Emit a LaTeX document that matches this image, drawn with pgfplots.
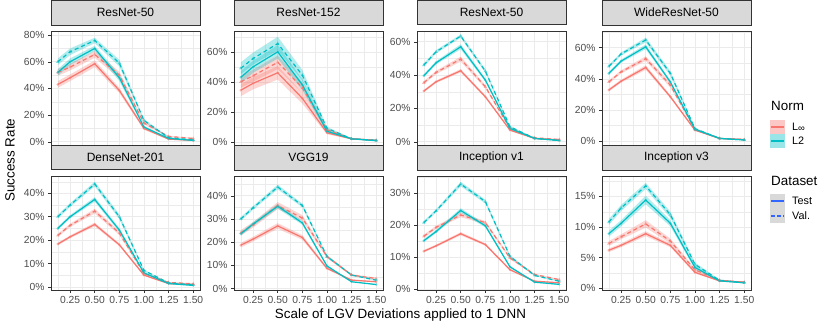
\documentclass[border=0pt]{standalone}
\usepackage{fontspec}
\setmainfont{Liberation Sans}
\usepackage{pgfplots}
\pgfplotsset{compat=1.18}
\usepackage{pgfplotstable}
\usepgfplotslibrary{fillbetween}
\definecolor{cinf}{HTML}{F8766D}
\definecolor{ctwo}{HTML}{00BFC4}
\definecolor{gridc}{HTML}{EBEBEB}
\definecolor{framec}{HTML}{333333}
\definecolor{tickc}{HTML}{4D4D4D}
\definecolor{stripc}{HTML}{D9D9D9}
\definecolor{legblue}{HTML}{3366FF}

% a = Linf Test, b = Linf Val., c = L2 Test, d = L2 Val.; *e = half-width of band
\pgfplotstableread{
x     a    ae   b    be   c    ce   d    de
0.125 43   2.5  52   2.5  52   2.5  60   2.5
0.25  48   2.5  56   2.5  60   2.5  67.5 2.5
0.5   58.5 2.5  65.5 2.5  70   2    76   2
0.75  38.5 2    50   2.5  48   2.5  59   2.5
1.0   10   1    14   1    11   1    16   1
1.25  2    0.4  4    0.5  2.5  0.4  3    0.5
1.5   1    0.3  2.5  0.4  1    0.3  1.5  0.3
}\tabA
\pgfplotstableread{
x     a    ae   b    be   c    ce   d    de
0.125 34.4 4    40   4    43   4    49   4
0.25  39   4    44   4    50   4    55.5 4
0.5   46   4.5  53   4.5  60   4.5  65.5 4.5
0.75  29   3.5  36   3.5  38   3.5  44.4 3.5
1.0   6    1    8    1    7    1    9    1
1.25  2    0.4  2    0.4  2    0.4  2    0.4
1.5   1    0.3  1    0.3  0.7  0.3  1    0.3
}\tabB
\pgfplotstableread{
x     a    ae   b    be   c    ce   d    de
0.125 30.4 0.8  35.4 1    39.6 1    46   1
0.25  36   0.8  41.6 1    47.4 1    54   1
0.5   42.6 1    49.6 1.5  57   1.5  63.4 1
0.75  27   0.8  33   1    37   1    42.4 1
1.0   7    0.5  8    0.5  8    0.5  9    0.5
1.25  2    0.3  2.4  0.3  2    0.3  2    0.3
1.5   1    0.2  1.4  0.2  0.8  0.2  0.8  0.2
}\tabC
\pgfplotstableread{
x     a    ae   b    be   c    ce   d    de
0.125 32.8 1    38   1    43.5 1    48   1
0.25  38.5 1    44.5 1    51.4 1    56   1
0.5   47.3 1.5  53   1.5  60.6 1.5  65   1.5
0.75  28.5 1    36   1.5  38   1    43.5 1.5
1.0   7    0.5  7.5  0.5  7.5  0.5  8    0.5
1.25  1.7  0.3  1.7  0.3  1.7  0.3  1.7  0.3
1.5   1    0.2  1    0.2  0.7  0.2  0.7  0.2
}\tabD
\pgfplotstableread{
x     a    ae   b    be   c    ce   d    de
0.125 18.3 0.6  22   0.7  25   0.7  30   0.8
0.25  21.4 0.6  26.3 0.7  30   0.7  35   0.8
0.5   26.7 0.8  32.4 1    37.4 1    44   1
0.75  18   0.6  23   0.8  24.3 0.8  30   1
1.0   5    0.3  5.7  0.3  6    0.3  7    0.4
1.25  1.4  0.2  1.9  0.2  1.4  0.2  1.7  0.2
1.5   1    0.15 1.3  0.2  0.6  0.15 0.9  0.15
}\tabE
\pgfplotstableread{
x     a    ae   b    be   c    ce   d    de
0.125 18.7 1    24   1.2  23.6 0.8  30   0.8
0.25  21.3 1    27.5 1.2  27.8 0.8  34.8 0.8
0.5   27   1.2  35.8 1.5  35.5 1    43.8 1
0.75  22   1    30.4 1.2  28.3 0.8  35.8 0.8
1.0   8.7  0.5  13.8 0.7  9.7  0.4  13.8 0.5
1.25  3.6  0.3  5.8  0.4  2.9  0.2  5.8  0.3
1.5   2.9  0.3  4.3  0.4  1.7  0.2  3.6  0.3
}\tabF
\pgfplotstableread{
x     a    ae   b    be   c    ce   d    de
0.125 11.8 0.4  16.5 0.5  15.1 0.5  20.8 0.5
0.25  13.5 0.4  19.3 0.5  18   0.5  24.5 0.5
0.5   17.3 0.5  23.2 0.7  24.6 0.7  32.9 0.7
0.75  13.9 0.4  20.8 0.5  19.8 0.5  27.4 0.6
1.0   6    0.3  9.7  0.4  6.9  0.3  10.2 0.4
1.25  2.4  0.2  4.5  0.2  2.1  0.2  4.2  0.2
1.5   1.9  0.2  2.9  0.2  1.4  0.15 2.4  0.2
}\tabG
\pgfplotstableread{
x     a    ae   b    be   c    ce   d    de
0.125 6.2  0.3  7.3  0.4  8.9  0.5  10.8 0.5
0.25  7    0.3  8.4  0.4  10.6 0.5  13.1 0.5
0.5   8.9  0.4  10.5 0.6  14.4 0.7  16.7 0.5
0.75  7    0.3  7.7  0.4  10.6 0.5  12   0.5
1.0   2.6  0.2  3    0.2  3.4  0.3  3.9  0.3
1.25  1.2  0.1  1.3  0.1  1.2  0.1  1.3  0.1
1.5   1    0.1  1    0.1  0.9  0.1  0.9  0.1
}\tabH

\pgfplotsset{
  panel/.style={
    scale only axis, width=149pt, height=114pt,
    xmin=0.056, xmax=1.569,
    xtick={0.25,0.5,0.75,1,1.25,1.5},
    minor xtick={0.125,0.375,0.625,0.875,1.125,1.375},
    grid=both,
    major grid style={gridc, line width=0.6pt},
    minor grid style={gridc, line width=0.3pt},
    axis line style={framec, line width=0.6pt},
    tick align=outside, major tick length=3pt, minor tick length=0pt,
    tick style={framec, line width=0.5pt},
    xtick pos=left, ytick pos=left,
    ticklabel style={font=\fontsize{10.3}{12}\selectfont, text=tickc},
    /pgf/number format/assume math mode=true,
    yticklabel={\pgfmathprintnumber{\tick}\%},
    xticklabel style={/pgf/number format/.cd, fixed, fixed zerofill, precision=2},
    title style={at={(0.5,1)}, anchor=south, fill=stripc, draw=framec, line width=0.6pt,
      minimum width=149pt, minimum height=24.5pt, inner sep=0pt, yshift=0pt,
      font=\fontsize{12}{14}\selectfont},
  },
  toprow/.style={xticklabels={}},
}

\newcommand{\drawband}[4]{%
  \addplot[draw=none, name path=U#2, forget plot] table[x=x, y expr=\thisrow{#2}+\thisrow{#3}] {#1};
  \addplot[draw=none, name path=L#2, forget plot] table[x=x, y expr=\thisrow{#2}-\thisrow{#3}] {#1};
  \addplot[fill=#4, fill opacity=0.3, draw=none, forget plot] fill between[of=U#2 and L#2];
}
\newcommand{\drawseries}[1]{%
  \drawband{#1}{a}{ae}{cinf}
  \drawband{#1}{b}{be}{cinf}
  \drawband{#1}{c}{ce}{ctwo}
  \drawband{#1}{d}{de}{ctwo}
  \addplot[cinf, line width=1.2pt, mark=*, mark size=1.4pt, mark options={fill opacity=0.5, draw opacity=0}] table[x=x, y=a] {#1};
  \addplot[cinf, line width=1.2pt, dash pattern=on 4pt off 3pt, mark=triangle*, mark size=2pt, mark options={solid, fill opacity=0.5, draw opacity=0}] table[x=x, y=b] {#1};
  \addplot[ctwo, line width=1.2pt, mark=*, mark size=1.4pt, mark options={fill opacity=0.5, draw opacity=0}] table[x=x, y=c] {#1};
  \addplot[ctwo, line width=1.2pt, dash pattern=on 4pt off 3pt, mark=triangle*, mark size=2pt, mark options={solid, fill opacity=0.5, draw opacity=0}] table[x=x, y=d] {#1};
}

\begin{document}
\begin{tikzpicture}

\begin{axis}[panel, toprow, at={(51pt,185pt)}, anchor=south west, title={ResNet-50},
  ymin=-2.5, ymax=83, ytick={0,20,40,60,80}, minor ytick={10,30,50,70}]
\drawseries{\tabA}
\end{axis}
\begin{axis}[panel, toprow, at={(234pt,185pt)}, anchor=south west, title={ResNet-152},
  ymin=-2.2, ymax=73.8, ytick={0,20,40,60}, minor ytick={10,30,50,70}]
\drawseries{\tabB}
\end{axis}
\begin{axis}[panel, toprow, at={(417pt,185pt)}, anchor=south west, title={ResNext-50},
  ymin=-2, ymax=66.4, ytick={0,20,40,60}, minor ytick={10,30,50}]
\drawseries{\tabC}
\end{axis}
\begin{axis}[panel, toprow, at={(602pt,185pt)}, anchor=south west, title={WideResNet-50},
  ymin=-2.6, ymax=70.7, ytick={0,20,40,60}, minor ytick={10,30,50,70}]
\drawseries{\tabD}
\end{axis}

\begin{axis}[panel, at={(51pt,40pt)}, anchor=south west, title={DenseNet-201},
  ymin=-1.4, ymax=47.4, ytick={0,10,20,30,40}, minor ytick={5,15,25,35,45}]
\drawseries{\tabE}
\end{axis}
\begin{axis}[panel, at={(234pt,40pt)}, anchor=south west, title={VGG19},
  ymin=-0.7, ymax=48.5, ytick={0,10,20,30,40}, minor ytick={5,15,25,35,45}]
\drawseries{\tabF}
\end{axis}
\begin{axis}[panel, at={(417pt,40pt)}, anchor=south west, title={Inception v1},
  ymin=-0.4, ymax=35.4, ytick={0,10,20,30}, minor ytick={5,15,25,35}]
\drawseries{\tabG}
\end{axis}
\begin{axis}[panel, at={(602pt,40pt)}, anchor=south west, title={Inception v3},
  ymin=-0.3, ymax=18.3, ytick={0,5,10,15}, minor ytick={2.5,7.5,12.5,17.5}]
\drawseries{\tabH}
\end{axis}

% axis titles
\node[rotate=90, font=\fontsize{13.4}{15}\selectfont] at (10pt,170pt) {Success Rate};
\node[font=\fontsize{13.4}{15}\selectfont] at (400.5pt,15pt) {Scale of LGV Deviations applied to 1 DNN};

% legend
\node[anchor=west, inner sep=0pt, font=\fontsize{13.4}{15}\selectfont] at (771pt,224pt) {Norm};
\fill[cinf, opacity=0.4] (770pt,196pt) rectangle (785pt,210pt);
\draw[cinf, line width=1.5pt] (771pt,203pt) -- (784pt,203pt);
\fill[ctwo, opacity=0.4] (770pt,182pt) rectangle (785pt,196pt);
\draw[ctwo, line width=1.5pt] (771pt,189pt) -- (784pt,189pt);
\node[anchor=west, inner sep=0pt, font=\fontsize{10.8}{12}\selectfont] at (792pt,203pt) {L\raisebox{-0.15ex}{\fontsize{9.5}{10}\selectfont ∞}};
\node[anchor=west, inner sep=0pt, font=\fontsize{10.8}{12}\selectfont] at (792pt,189pt) {L2};

\node[anchor=west, inner sep=0pt, font=\fontsize{13.4}{15}\selectfont] at (771pt,149pt) {Dataset};
\fill[stripc] (770pt,107pt) rectangle (785pt,136pt);
\draw[legblue, line width=1.5pt] (771pt,129pt) -- (784pt,129pt);
\draw[legblue, line width=1.5pt, dash pattern=on 3.5pt off 2.5pt] (771pt,114pt) -- (784pt,114pt);
\node[anchor=west, inner sep=0pt, font=\fontsize{10.8}{12}\selectfont] at (792pt,129pt) {Test};
\node[anchor=west, inner sep=0pt, font=\fontsize{10.8}{12}\selectfont] at (792pt,114pt) {Val.};

\path (0,0) rectangle (830pt,328pt);
\end{tikzpicture}
\end{document}
